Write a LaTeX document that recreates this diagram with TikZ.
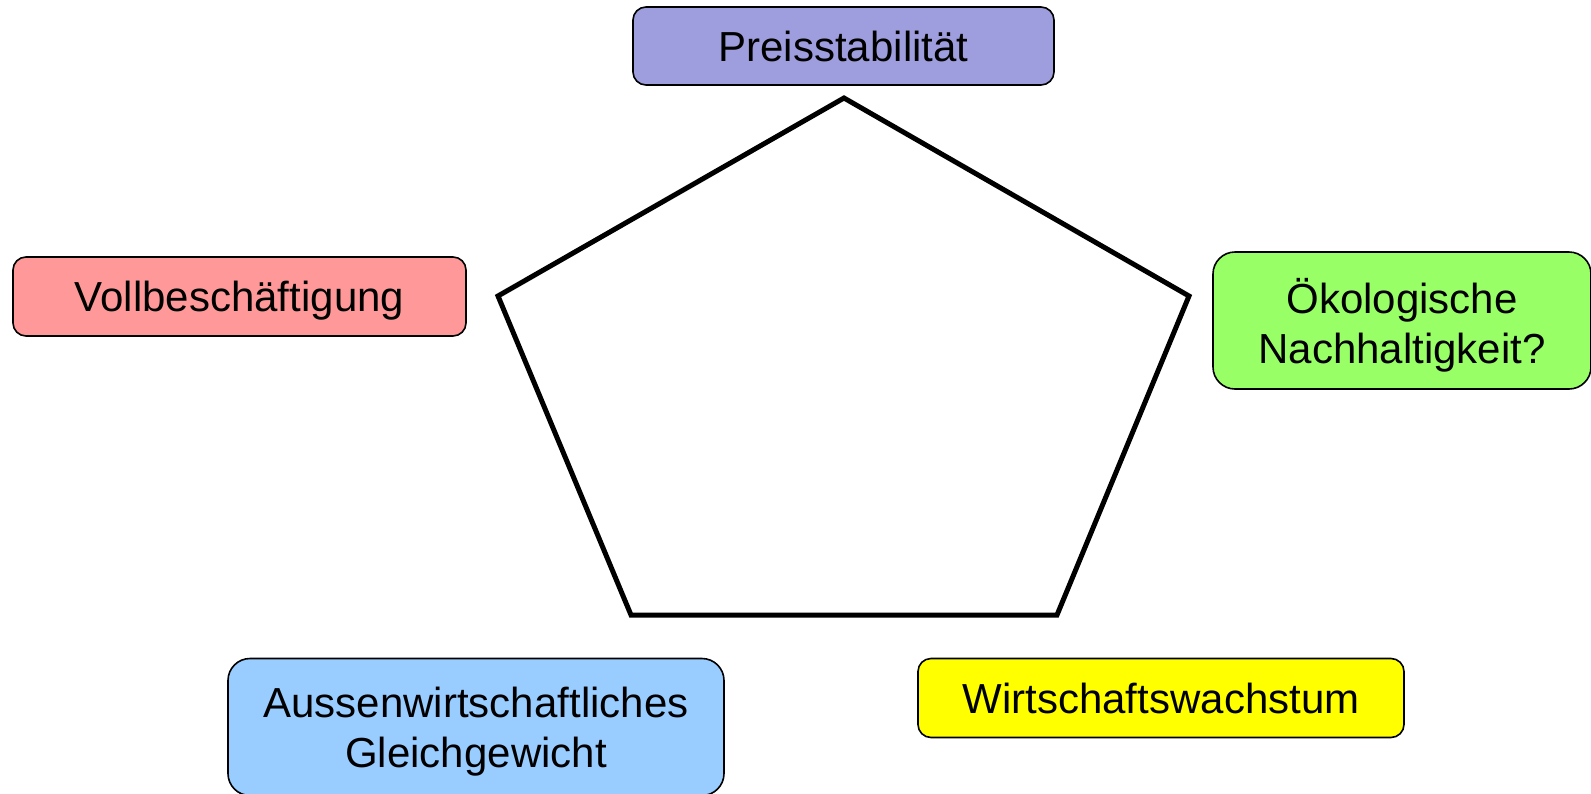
\documentclass[tikz,border=0pt]{standalone}
\usepackage{fontspec}
\setmainfont{Liberation Sans}
\definecolor{cpreis}{RGB}{158,158,222}
\definecolor{cvoll}{RGB}{255,153,153}
\definecolor{coeko}{RGB}{153,255,102}
\definecolor{caussen}{RGB}{153,204,255}
\definecolor{cwirt}{RGB}{255,255,0}
\begin{document}
\begin{tikzpicture}[x=1pt,y=-1pt,
  goalbox/.style={draw=black, line width=1.6pt, inner sep=0pt, align=center,
    text depth=0pt, font=\fontsize{42}{50}\selectfont, rounded corners=13pt},
  tallbox/.style={goalbox, rounded corners=22pt},
  penta/.style={draw=black, line width=5pt, line join=miter}]
\useasboundingbox (0,0) rectangle (1591,793);
\clip (0,0) rectangle (1591,793);
\fill[white] (0,0) rectangle (1591,793);
\node[goalbox, fill=cpreis, minimum width=421pt, minimum height=78pt] (preis) at (843.5,46) {Preisstabilität};
\node[goalbox, fill=cvoll, minimum width=453pt, minimum height=79pt] (voll) at (239.5,296.5) {Vollbeschäftigung};
\node[tallbox, fill=coeko, minimum width=378pt, minimum height=137pt] (oeko) at (1402,320.5) {Ökologische\\Nachhaltigkeit?};
\node[tallbox, fill=caussen, minimum width=496pt, minimum height=137pt] (aussen) at (476,727) {Aussenwirtschaftliches\\Gleichgewicht};
\node[goalbox, fill=cwirt, minimum width=486pt, minimum height=79pt] (wirt) at (1161,698) {Wirtschaftswachstum};
\coordinate (p1) at (844,98);
\coordinate (p2) at (1189,296);
\coordinate (p3) at (1057,615);
\coordinate (p4) at (631,615);
\coordinate (p5) at (498,296);
\draw[penta] (p1) -- (p2) -- (p3) -- (p4) -- (p5) -- cycle;
\end{tikzpicture}
\end{document}
